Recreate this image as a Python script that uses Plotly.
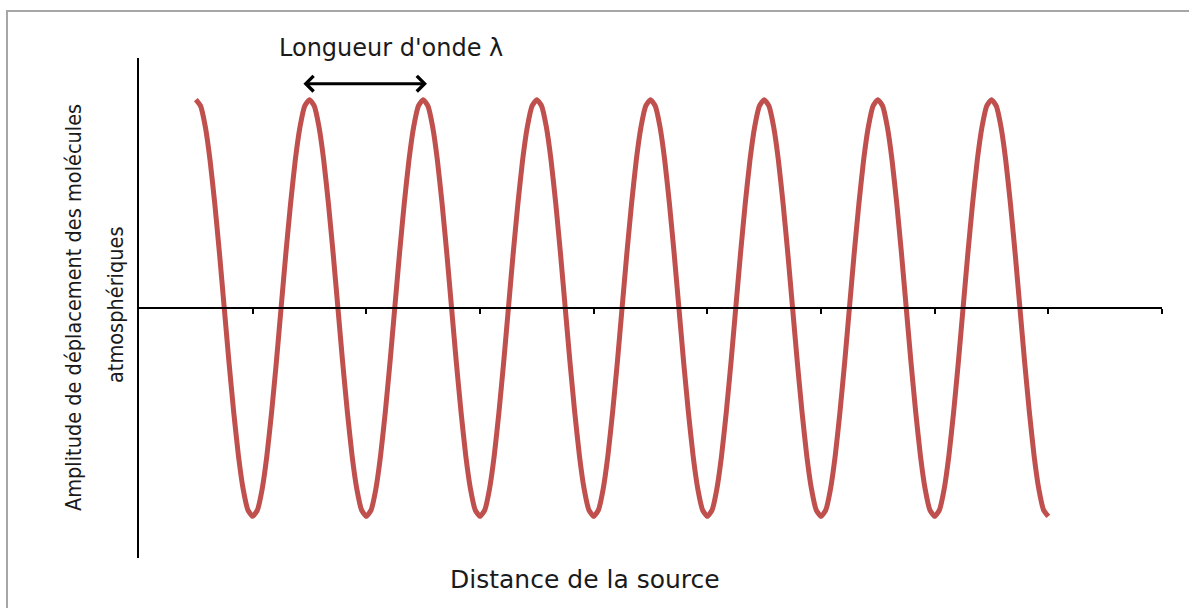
import plotly.graph_objects as go

# Distance from the source, in 24ths of a wavelength
distance = [
    12, 13, 14, 15, 16, 17, 18, 19, 20, 21, 22, 23, 24, 25, 26, 27, 28, 29, 30, 31, 32, 33, 34, 35,
    36, 37, 38, 39, 40, 41, 42, 43, 44, 45, 46, 47, 48, 49, 50, 51, 52, 53, 54, 55, 56, 57, 58, 59,
    60, 61, 62, 63, 64, 65, 66, 67, 68, 69, 70, 71, 72, 73, 74, 75, 76, 77, 78, 79, 80, 81, 82, 83,
    84, 85, 86, 87, 88, 89, 90, 91, 92, 93, 94, 95, 96, 97, 98, 99, 100, 101, 102, 103, 104, 105, 106, 107,
    108, 109, 110, 111, 112, 113, 114, 115, 116, 117, 118, 119, 120, 121, 122, 123, 124, 125, 126, 127, 128, 129, 130, 131,
    132, 133, 134, 135, 136, 137, 138, 139, 140, 141, 142, 143, 144, 145, 146, 147, 148, 149, 150, 151, 152, 153, 154, 155,
    156, 157, 158, 159, 160, 161, 162, 163, 164, 165, 166, 167, 168, 169, 170, 171, 172, 173, 174, 175, 176, 177, 178, 179,
    180, 181, 182, 183, 184, 185, 186, 187, 188, 189, 190, 191, 192,
]

# Displacement amplitude (peak = 1, trough = -1)
amplitude = [
    1.0, 0.97, 0.87, 0.71, 0.5, 0.26, 0.0, -0.26, -0.5, -0.71, -0.87, -0.97,
    -1.0, -0.97, -0.87, -0.71, -0.5, -0.26, 0.0, 0.26, 0.5, 0.71, 0.87, 0.97,
    1.0, 0.97, 0.87, 0.71, 0.5, 0.26, 0.0, -0.26, -0.5, -0.71, -0.87, -0.97,
    -1.0, -0.97, -0.87, -0.71, -0.5, -0.26, 0.0, 0.26, 0.5, 0.71, 0.87, 0.97,
    1.0, 0.97, 0.87, 0.71, 0.5, 0.26, 0.0, -0.26, -0.5, -0.71, -0.87, -0.97,
    -1.0, -0.97, -0.87, -0.71, -0.5, -0.26, 0.0, 0.26, 0.5, 0.71, 0.87, 0.97,
    1.0, 0.97, 0.87, 0.71, 0.5, 0.26, 0.0, -0.26, -0.5, -0.71, -0.87, -0.97,
    -1.0, -0.97, -0.87, -0.71, -0.5, -0.26, 0.0, 0.26, 0.5, 0.71, 0.87, 0.97,
    1.0, 0.97, 0.87, 0.71, 0.5, 0.26, 0.0, -0.26, -0.5, -0.71, -0.87, -0.97,
    -1.0, -0.97, -0.87, -0.71, -0.5, -0.26, 0.0, 0.26, 0.5, 0.71, 0.87, 0.97,
    1.0, 0.97, 0.87, 0.71, 0.5, 0.26, 0.0, -0.26, -0.5, -0.71, -0.87, -0.97,
    -1.0, -0.97, -0.87, -0.71, -0.5, -0.26, 0.0, 0.26, 0.5, 0.71, 0.87, 0.97,
    1.0, 0.97, 0.87, 0.71, 0.5, 0.26, 0.0, -0.26, -0.5, -0.71, -0.87, -0.97,
    -1.0, -0.97, -0.87, -0.71, -0.5, -0.26, 0.0, 0.26, 0.5, 0.71, 0.87, 0.97,
    1.0, 0.97, 0.87, 0.71, 0.5, 0.26, 0.0, -0.26, -0.5, -0.71, -0.87, -0.97,
    -1.0,
]

x_ticks = [24, 48, 72, 96, 120, 144, 168, 192, 216]

# Wavelength arrow, from one peak to the next (data units)
arrow_start = 34.4
arrow_end = 60.8
arrow_level = 1.077

title_text = "Longueur d'onde λ"
x_title = "Distance de la source"
y_title_1 = "Amplitude de déplacement des molécules"
y_title_2 = "atmosphériques"

fig = go.Figure()
fig.add_trace(go.Scatter(
    x=distance, y=amplitude, mode="lines",
    line=dict(color="#C0504D", width=5, shape="spline", smoothing=0.5),
    hoverinfo="skip", showlegend=False,
))

W, H = 1189, 608
L, R, T, B = 139, 27, 58, 50
pw, ph = W - L - R, H - T - B


def px(xp):
    return (xp - L) / pw


def py(yp):
    return (H - B - yp) / ph


text_font = dict(family="DejaVu Sans, Verdana, sans-serif", size=24, color="#1a1a1a")
xt_font = dict(family="DejaVu Sans, Verdana, sans-serif", size=25, color="#1a1a1a")
cond_font = dict(family="DejaVu Sans Condensed, Liberation Sans Narrow, Noto Sans", size=21.5, color="#1a1a1a")

fig.update_layout(
    width=W, height=H,
    margin=dict(l=L, r=R, t=T, b=B, pad=0),
    paper_bgcolor="white", plot_bgcolor="white",
    showlegend=False,
    xaxis=dict(
        range=[0, 216], anchor="free", position=0.5, side="bottom",
        showline=True, linecolor="black", linewidth=1.5,
        ticks="outside", tickvals=x_ticks, ticklen=5, tickwidth=1.5, tickcolor="black",
        showticklabels=False, showgrid=False, zeroline=False, fixedrange=True,
    ),
    yaxis=dict(
        range=[-1.2, 1.2], showline=True, linecolor="black", linewidth=1.5,
        ticks="", showticklabels=False, showgrid=False, zeroline=False, fixedrange=True,
    ),
    shapes=[dict(
        type="rect", xref="paper", yref="paper",
        x0=px(7), x1=px(1200), y0=py(620), y1=py(11),
        line=dict(color="#a6a6a6", width=2), fillcolor="rgba(0,0,0,0)", layer="below",
    )],
    annotations=[
        dict(x=arrow_end, y=arrow_level, ax=arrow_start, ay=arrow_level,
             xref="x", yref="y", axref="x", ayref="y", text="",
             showarrow=True, arrowhead=4, startarrowhead=4, arrowside="end+start",
             arrowsize=1, startarrowsize=1, arrowwidth=3, arrowcolor="black",
             standoff=0, startstandoff=0),
        dict(text=title_text, x=px(391), y=py(48), xref="paper", yref="paper",
             showarrow=False, xanchor="center", yanchor="middle", font=text_font),
        dict(text=x_title, x=px(585), y=py(579), xref="paper", yref="paper",
             showarrow=False, xanchor="center", yanchor="middle", font=xt_font),
        dict(text=y_title_1, x=px(73), y=py(308), xref="paper", yref="paper",
             showarrow=False, xanchor="center", yanchor="middle", textangle=-90, font=cond_font),
        dict(text=y_title_2, x=px(115), y=py(305), xref="paper", yref="paper",
             showarrow=False, xanchor="center", yanchor="middle", textangle=-90, font=cond_font),
    ],
)

fig.write_html("out.html", config={"displayModeBar": False},
               post_script="document.body.style.margin='0';")
